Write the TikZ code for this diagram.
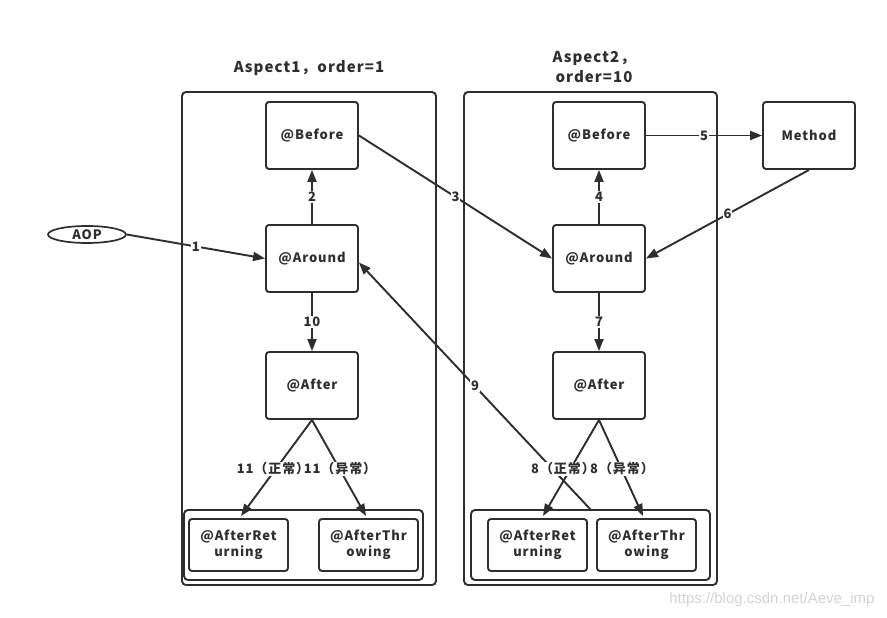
\documentclass[tikz,border=0pt]{standalone}
\usepackage{fontspec}
\setmainfont{Noto Sans CJK SC}[LetterSpace=7]
\newfontfamily\wmfont{Liberation Sans}
\usetikzlibrary{arrows.meta,calc,shapes.geometric}
\definecolor{ink}{HTML}{2E2E2E}
\definecolor{wm}{HTML}{D4D4D4}
\tikzset{
  box/.style={draw=ink, line width=1.9pt, rounded corners=3pt, minimum width=92pt, minimum height=67pt, font=\fontsize{13}{15}\selectfont\bfseries, text=ink, align=center},
  smallbox/.style={draw=ink, line width=1.9pt, rounded corners=3pt, minimum width=99pt, minimum height=52pt, font=\fontsize{13}{16}\selectfont\bfseries, text=ink, align=center},
  frame/.style={draw=ink, line width=1.9pt, rounded corners=4pt},
  title/.style={font=\fontsize{15}{20}\selectfont\bfseries, text=ink, align=center},
  conn/.style={draw=ink, line width=1.9pt, -{Triangle[length=12pt,width=9pt]}},
  lab/.style={fill=white, inner sep=1pt, font=\fontsize{13}{15}\selectfont\bfseries, text=ink}
}
\begin{document}
\begin{tikzpicture}[x=1pt,y=-1pt]
\useasboundingbox[fill=white] (0,0) rectangle (887,618);
% frames
\node[frame, minimum width=254pt, minimum height=493pt] (asp1) at (309,338.5) {};
\node[frame, minimum width=253pt, minimum height=493pt] (asp2) at (590.5,338.5) {};
\node[frame, minimum width=239pt, minimum height=70pt] (grp1) at (303.5,545) {};
\node[frame, minimum width=239pt, minimum height=70pt] (grp2) at (590.5,545) {};
% titles
\node[title] (t1) at (309,68) {Aspect1，order=1};
\node[title] (t2) at (594,67) {Aspect2，\\order=10};
% aspect 1
\node[box] (before1) at (312,135.5) {@Before};
\node[box] (around1) at (312,258.5) {@Around};
\node[box] (after1) at (312,385.5) {@After};
\node[smallbox] (ret1) at (238.5,545) {@AfterRet\\urning};
\node[smallbox] (thr1) at (368.5,545) {@AfterThr\\owing};
% aspect 2
\node[box] (before2) at (599,135.5) {@Before};
\node[box] (around2) at (599,258.5) {@Around};
\node[box] (after2) at (599,385.5) {@After};
\node[smallbox] (ret2) at (537.5,545) {@AfterRet\\urning};
\node[smallbox] (thr2) at (646.5,545) {@AfterThr\\owing};
% others
\node[box] (method) at (809,135.5) {Method};
\node[draw=ink, line width=1.7pt, ellipse, minimum width=78pt, minimum height=17pt, inner sep=0pt, font=\fontsize{13}{15}\selectfont\bfseries, text=ink] (aop) at (87,234.5) {AOP};
\coordinate (c9) at (591,510);
\coordinate (r1a) at (241,516);
\coordinate (t1a) at (366,516);
\coordinate (r2a) at (543,516);
\coordinate (t2a) at (643,516);
% connectors
\draw[conn] (aop.east) -- node[lab]{1} (around1.west);
\draw[conn] (around1.north) -- node[lab]{2} (before1.south);
\draw[conn] (before1.east) -- node[lab]{3} (around2.west);
\draw[conn] (around2.north) -- node[lab]{4} (before2.south);
\draw[conn] (before2.east) -- node[lab]{5} (method.west);
\draw[conn] (method.south) -- node[lab]{6} (around2.east);
\draw[conn] (around2.south) -- node[lab]{7} (after2.north);
\draw[conn] (after2.south) -- (r2a);
\draw[conn] (after2.south) -- (t2a);
\draw[conn] (c9) -- node[lab]{9} ($(around1.east)+(0,4)$);
\draw[conn] (around1.south) -- node[lab]{10} (after1.north);
\draw[conn] (after1.south) -- (r1a);
\draw[conn] (after1.south) -- (t1a);
% branch labels
\node[lab] (l11a) at (273,469) {11（正常）};
\node[lab] (l11b) at (340,469) {11（异常）};
\node[lab] (l8a) at (563,469) {8（正常）};
\node[lab] (l8b) at (622,469) {8（异常）};
% watermark
\node[font=\wmfont\fontsize{15}{18}\selectfont, text=wm, anchor=east] (wmk) at (878,600) {https://blog.csdn.net/Aeve\_imp};
\end{tikzpicture}
\end{document}
